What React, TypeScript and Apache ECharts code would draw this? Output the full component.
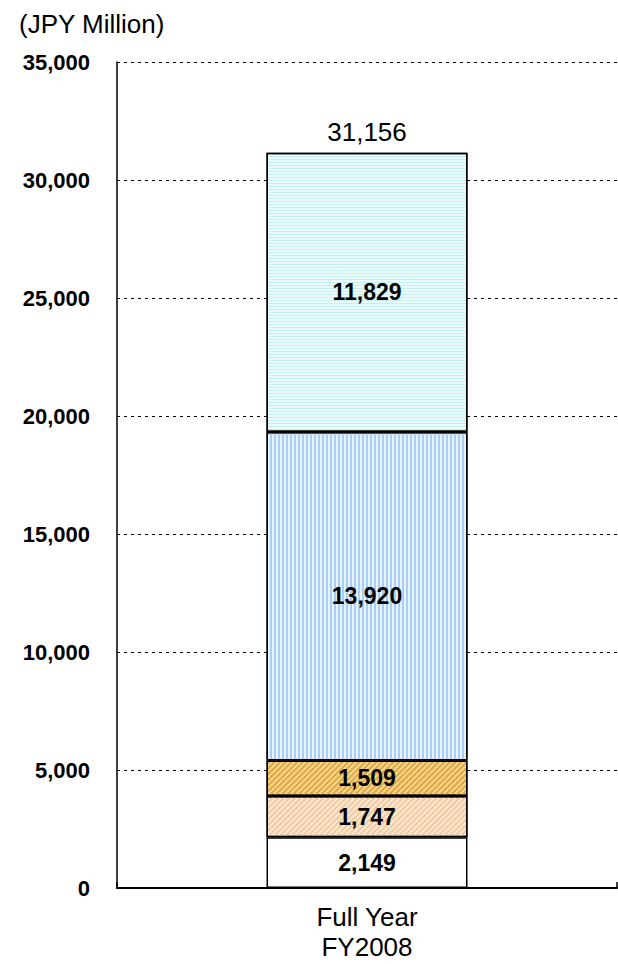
import React, { useEffect, useRef } from "react";
import * as echarts from "echarts";

const categories = ["Full Year\nFY2008"];
const seg1 = [2149];
const seg2 = [1747];
const seg3 = [1509];
const seg4 = [13920];
const seg5 = [11829];
const totals = [31156];
const yTicks = { min: 0, max: 35000, interval: 5000 };

const FONT = "'Liberation Sans', Arial, sans-serif";
const fmt = (v: number) => v.toLocaleString("en-US");

export default function App() {
  const ref = useRef<HTMLDivElement>(null);
  useEffect(() => {
    if (!ref.current) return;
    const chart = echarts.init(ref.current, undefined, { renderer: "svg" });
    const border = { borderColor: "#000", borderWidth: 1.5 };
    const inLabel = {
      show: true,
      position: "inside",
      color: "#000",
      fontFamily: FONT,
      fontWeight: "bold",
      fontSize: 23,
      formatter: (p: any) => fmt(p.value),
    };
    const mk = (name: string, data: number[], color: string, decal: any) => ({
      name,
      type: "bar",
      stack: "t",
      barWidth: 201,
      data,
      itemStyle: { color, ...border, decal },
      label: inLabel,
    });
    chart.setOption({
      animation: false,
      title: {
        text: "(JPY Million)",
        left: 14,
        top: 6,
        textStyle: { fontFamily: FONT, fontWeight: "normal", fontSize: 26, color: "#000" },
      },
      grid: { left: 117, right: 1, top: 62, bottom: 76, containLabel: false },
      xAxis: {
        type: "category",
        data: categories,
        axisLine: { lineStyle: { color: "#000", width: 2 } },
        axisTick: { show: true, inside: true, length: 6, lineStyle: { color: "#000", width: 1.5 } },
        axisLabel: {
          color: "#000",
          fontFamily: FONT,
          fontSize: 26,
          lineHeight: 30,
          margin: 14,
        },
      },
      yAxis: {
        type: "value",
        min: yTicks.min,
        max: yTicks.max,
        interval: yTicks.interval,
        axisLine: { show: true, lineStyle: { color: "#000", width: 1.5 } },
        axisTick: { show: false },
        axisLabel: {
          color: "#000",
          fontFamily: FONT,
          fontWeight: "bold",
          fontSize: 22,
          margin: 27,
          formatter: (v: number) => fmt(v),
        },
        splitLine: { show: true, lineStyle: { color: "#000", width: 1.2, type: [3, 4] } },
      },
      series: [
        mk("s1", seg1, "#ffffff", undefined),
        mk("s2", seg2, "#fce8d2", {
          symbol: "rect",
          symbolSize: 1,
          color: "#efcba2",
          dashArrayX: [1, 0],
          dashArrayY: [1.5, 2],
          rotation: -Math.PI / 4,
        }),
        mk("s3", seg3, "#f6d68c", {
          symbol: "rect",
          symbolSize: 1,
          color: "#dba844",
          dashArrayX: [1, 0],
          dashArrayY: [2, 2],
          rotation: -Math.PI / 4,
        }),
        mk("s4", seg4, "#e8f2fc", {
          symbol: "rect",
          symbolSize: 1,
          color: "#a8cef4",
          dashArrayX: [1, 0],
          dashArrayY: [2, 2],
          rotation: Math.PI / 2,
        }),
        mk("s5", seg5, "#e9fcfb", {
          symbol: "rect",
          symbolSize: 1,
          color: "#c6efee",
          dashArrayX: [1, 0],
          dashArrayY: [1, 2],
          rotation: 0,
        }),
        {
          name: "total",
          type: "bar",
          stack: "t",
          barWidth: 201,
          data: totals.map(() => 0),
          itemStyle: { color: "transparent" },
          label: {
            show: true,
            position: "top",
            distance: 8,
            color: "#000",
            fontFamily: FONT,
            fontSize: 26,
            formatter: (p: any) => fmt(totals[p.dataIndex]),
          },
        },
      ],
    });
    return () => chart.dispose();
  }, []);
  return (
    <div
      ref={ref}
      style={{ position: "absolute", left: 0, top: 0, width: 618, height: 964, background: "#fff" }}
    />
  );
}
